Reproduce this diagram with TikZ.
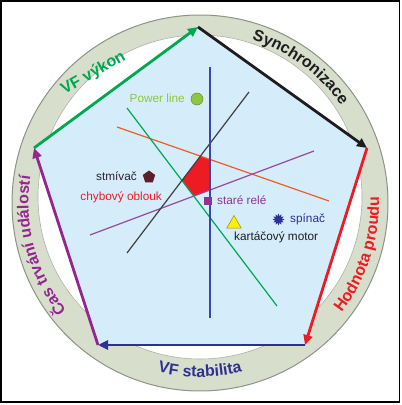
\documentclass[tikz,border=0pt]{standalone}
\usepackage{fontspec}
\setmainfont{Liberation Sans}
\usetikzlibrary{arrows.meta,shapes.geometric,decorations.text}
\definecolor{ringfill}{RGB}{216,222,204}
\definecolor{ringedge}{RGB}{140,148,136}
\definecolor{pentfill}{RGB}{213,237,250}
\definecolor{pgreen}{RGB}{0,166,81}
\definecolor{pblack}{RGB}{30,28,30}
\definecolor{pred}{RGB}{237,28,36}
\definecolor{pnavy}{RGB}{46,49,146}
\definecolor{ppurple}{RGB}{146,39,143}
\definecolor{lgreen}{RGB}{141,198,63}
\definecolor{lorange}{RGB}{240,90,40}
\definecolor{lpurple}{RGB}{150,72,158}
\definecolor{lblue}{RGB}{60,70,165}
\definecolor{maroon}{RGB}{92,30,42}
\definecolor{dimtext}{RGB}{45,34,48}
\definecolor{relec}{RGB}{142,52,146}
\definecolor{yell}{RGB}{255,238,0}
\newcommand\ringfont{\fontsize{16}{19}\selectfont\bfseries}
\newcommand\labfont{\fontsize{11.8}{14}\selectfont}
\tikzset{
  edgearrow/.style={line width=2.8pt,-{Triangle[length=10pt,width=9pt]}},
  inline/.style={line width=1.2pt},
  lab/.style={inner sep=0pt,font=\labfont},
  ringlab/.style={inner sep=0pt,font=\ringfont},
  arctext/.style={decorate,decoration={text along path,text align=center,text={|\ringfont|#1}}}
}
\begin{document}
\begin{tikzpicture}[x=1pt,y=1pt]
\useasboundingbox (0,0) rectangle (402,405);
\fill[white] (0,0) rectangle (402,405);
\draw[black,line width=1.5pt] (1,3) rectangle (399.5,404);
% ring
\coordinate (C) at (200,202);
\coordinate (Ci) at (200,208);
\fill[ringfill,even odd rule] (C) circle[radius=188] (Ci) circle[radius=162];
\draw[ringedge,line width=1pt] (C) circle[radius=188];
\draw[ringedge!70,line width=0.6pt] (Ci) circle[radius=162];
% pentagon
\coordinate (T) at (198,378);
\coordinate (R) at (367,257);
\coordinate (BR) at (305,60);
\coordinate (BL) at (98,60);
\coordinate (L) at (34,257);
\fill[pentfill] (T) -- (R) -- (BR) -- (BL) -- (L) -- cycle;
% interior lines
\coordinate (bl1) at (210,338); \coordinate (bl2) at (210,87);
\coordinate (bk1) at (127,152); \coordinate (bk2) at (249,313);
\coordinate (gr1) at (127,297); \coordinate (gr2) at (277,99);
\coordinate (or1) at (117,278); \coordinate (or2) at (329,204);
\coordinate (pu1) at (90,170);  \coordinate (pu2) at (314,254);
\coordinate (x1) at (intersection of bk1--bk2 and or1--or2);
\coordinate (x2) at (intersection of or1--or2 and bl1--bl2);
\coordinate (x3) at (intersection of bl1--bl2 and pu1--pu2);
\coordinate (x4) at (intersection of pu1--pu2 and gr1--gr2);
\coordinate (x5) at (intersection of gr1--gr2 and bk1--bk2);
\fill[pred] (x1) -- (x2) -- (x3) -- (x4) -- (x5) -- cycle;
\draw[inline,lorange] (or1) -- (or2);
\draw[inline,lpurple] (pu1) -- (pu2);
\draw[inline,pgreen] (gr1) -- (gr2);
\draw[inline,pblack!85] (bk1) -- (bk2);
\draw[lblue,line width=1.7pt] (bl1) -- (bl2);
% markers and labels
\node[lab,text=lgreen,anchor=base east] (pl) at (185,302) {Power line};
\node[circle,fill=lgreen,draw=lgreen!70!black,line width=0.5pt,minimum size=12pt,inner sep=0pt] (plm) at (197,306) {};
\node[lab,text=dimtext,anchor=base east] (st) at (137,224) {stmívač};
\node[regular polygon,regular polygon sides=5,fill=maroon,minimum size=13pt,inner sep=0pt] (stm) at (149,228) {};
\node[lab,text=pred,anchor=base east] (ch) at (162,204) {chybový oblouk};
\node[rectangle,fill=relec,minimum size=8pt,inner sep=0pt] (srm) at (208,204) {};
\node[lab,text=relec,anchor=base west] (sr) at (217,200) {staré relé};
\node[regular polygon,regular polygon sides=3,fill=yell,draw=yell!60!black,line width=0.5pt,minimum size=17pt,inner sep=0pt] (km) at (234,181) {};
\node[lab,text=pblack,anchor=base west] (kt) at (234,164) {kartáčový motor};
\node[star,star points=12,star point ratio=1.7,fill=pnavy,minimum size=12pt,inner sep=0pt] (spm) at (278.5,185.5) {};
\node[lab,text=pnavy,anchor=base west] (sp) at (290,182) {spínač};
% pentagon edges
\draw[edgearrow,pgreen] (L) -- (T);
\draw[edgearrow,pblack] (T) -- (R);
\draw[edgearrow,pred] (R) -- (BR);
\draw[edgearrow,pnavy] (BR) -- (BL);
\draw[edgearrow,ppurple] (BL) -- (L);
% ring labels
\node[ringlab,text=pgreen,anchor=base,rotate=30] (vfv) at (95.5,328) {VF výkon};
\path[arctext={Synchronizace},decoration={text color=pblack}] ([shift={(93.5:171.5)}]C) arc[start angle=93.5,end angle=13.5,radius=171.5];
\path[arctext={Hodnota proudu},decoration={text color=pred}] ([shift={(-57.85:179)}]C) arc[start angle=-57.85,end angle=22.15,radius=179];
\path[arctext={VF stabilita},decoration={text color=pnavy}] ([shift={(230:174)}]C) arc[start angle=230,end angle=310,radius=174];
\path[arctext={Čas trvání událostí},decoration={text color=ppurple}] ([shift={(235:171.5)}]C) arc[start angle=235,end angle=155,radius=171.5];
\end{tikzpicture}
\end{document}
